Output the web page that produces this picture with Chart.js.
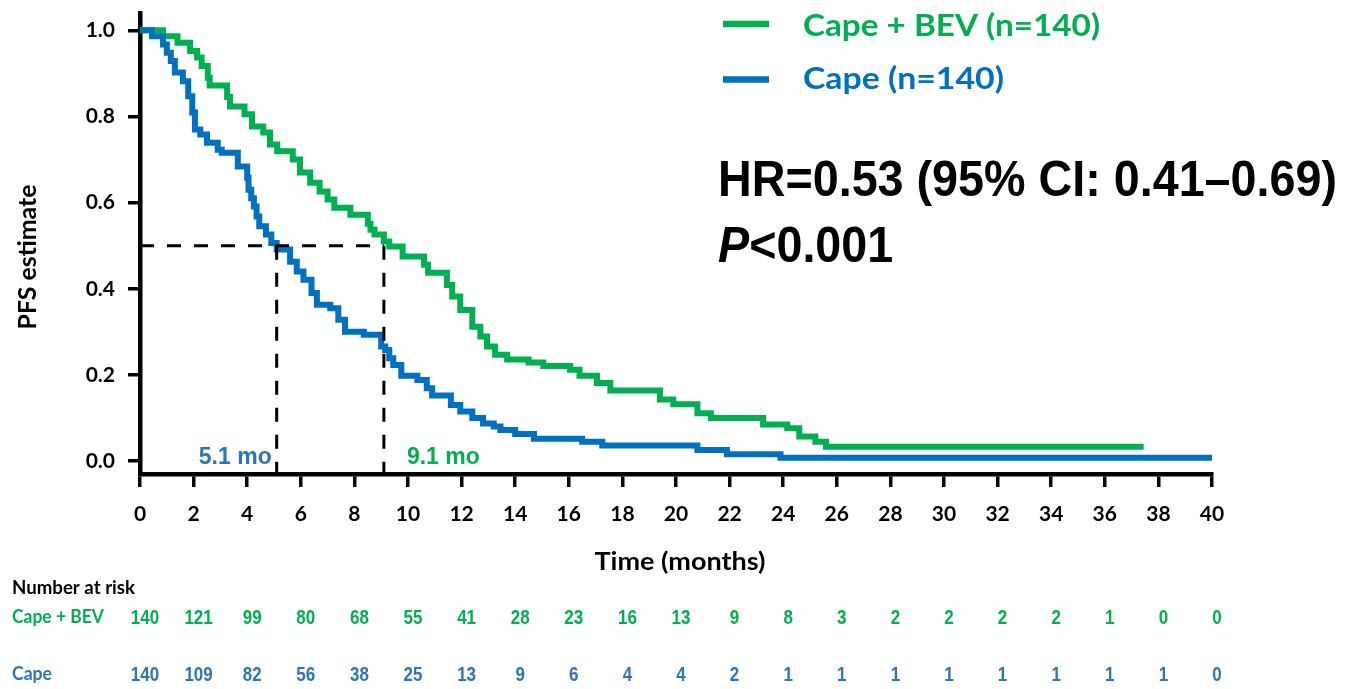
<!DOCTYPE html>
<html>
<head>
<meta charset="utf-8">
<script src="https://cdn.jsdelivr.net/npm/chart.js@4.4.1/dist/chart.umd.min.js"></script>
<style>
  html, body { margin: 0; padding: 0; background: #ffffff; }
  #wrap { position: relative; width: 1359px; height: 689px; }
</style>
</head>
<body>
<div id="wrap"><canvas id="km" width="1359" height="689"></canvas></div>
<script>
// Axis ticks
const monthTicks = [0, 2, 4, 6, 8, 10, 12, 14, 16, 18, 20, 22, 24, 26, 28, 30, 32, 34, 36, 38, 40];
const survTicks = [0, 0.2, 0.4, 0.6, 0.8, 1.0];

// Kaplan-Meier steps: time (months) at which the estimate changes, and the new estimate
const bevTimes = [0, 0.86, 1.4, 1.87, 2.13, 2.3, 2.53, 2.6, 3.25, 3.36, 3.9, 4.18, 4.6, 4.85, 5.12, 5.7, 5.97, 6.35, 6.7, 7.0, 7.25, 7.85, 8.5, 8.6, 8.75, 9.1, 9.3, 9.8, 10.6, 10.75, 11.45, 11.65, 11.95, 12.4, 12.7, 12.95, 13.25, 13.7, 14.5, 15.05, 16.05, 16.4, 17.05, 17.55, 19.4, 19.9, 20.8, 21.3, 23.25, 24.15, 24.6, 25.2, 25.6, 37.45];
const bevSurv  = [1.0, 0.986, 0.971, 0.952, 0.937, 0.917, 0.89, 0.872, 0.845, 0.823, 0.805, 0.777, 0.763, 0.735, 0.719, 0.70, 0.67, 0.646, 0.626, 0.607, 0.588, 0.572, 0.551, 0.537, 0.526, 0.51, 0.498, 0.475, 0.456, 0.437, 0.409, 0.382, 0.351, 0.312, 0.289, 0.266, 0.247, 0.236, 0.229, 0.221, 0.212, 0.198, 0.181, 0.164, 0.143, 0.132, 0.111, 0.10, 0.085, 0.076, 0.057, 0.045, 0.033, 0.033];

const capeTimes = [0, 0.45, 0.86, 1.0, 1.15, 1.3, 1.6, 1.8, 1.95, 2.05, 2.25, 2.5, 2.9, 3.05, 3.65, 4.0, 4.05, 4.15, 4.25, 4.35, 4.45, 4.7, 4.9, 5.1, 5.6, 5.85, 6.1, 6.4, 6.6, 7.1, 7.4, 7.65, 8.35, 9.0, 9.15, 9.3, 9.45, 9.75, 10.35, 10.7, 10.9, 11.6, 11.95, 12.4, 12.8, 13.2, 13.45, 14.0, 14.7, 16.5, 17.25, 20.8, 21.9, 23.9, 40];
const capeSurv  = [1.0, 0.986, 0.967, 0.948, 0.929, 0.902, 0.882, 0.847, 0.809, 0.77, 0.758, 0.739, 0.723, 0.716, 0.684, 0.658, 0.63, 0.61, 0.591, 0.568, 0.545, 0.526, 0.506, 0.491, 0.463, 0.44, 0.421, 0.39, 0.363, 0.355, 0.328, 0.30, 0.293, 0.266, 0.258, 0.239, 0.223, 0.198, 0.188, 0.169, 0.152, 0.13, 0.115, 0.10, 0.087, 0.08, 0.072, 0.063, 0.052, 0.045, 0.036, 0.026, 0.016, 0.008, 0.008];

// Number at risk at each tick month
const riskBev  = [140, 121, 99, 80, 68, 55, 41, 28, 23, 16, 13, 9, 8, 3, 2, 2, 2, 2, 1, 0, 0];
const riskCape = [140, 109, 82, 56, 38, 25, 13, 9, 6, 4, 4, 2, 1, 1, 1, 1, 1, 1, 1, 1, 0];

// Medians (months) and the survival level they are read at
const medianCape = 5.1;
const medianBev = 9.1;
const medianLevel = 0.5;

const GREEN = '#00B050';
const BLUE = '#0070C0';
const BLUE_TXT = '#2E75B6';
const Y_MIN = -0.03, Y_MAX = 1.04;

const toPoints = (ts, ss) => ts.map((t, i) => ({ x: t, y: ss[i] }));

// Writes text, optionally squeezed horizontally to a given width
function put(ctx, s, x, y, font, color, align, fitW) {
  ctx.save();
  ctx.font = font;
  ctx.fillStyle = color;
  ctx.textBaseline = 'alphabetic';
  const w = ctx.measureText(s).width;
  const k = fitW ? fitW / w : 1;
  let x0 = x;
  if (align === 'center') x0 = x - (w * k) / 2;
  else if (align === 'right') x0 = x - w * k;
  ctx.translate(x0, y);
  ctx.scale(k, 1);
  ctx.textAlign = 'left';
  ctx.fillText(s, 0, 0);
  ctx.restore();
  return w * k;
}

const extras = {
  id: 'kmExtras',
  afterDraw(chart) {
    const ctx = chart.ctx;
    const xs = chart.scales.x;

    // legend
    ctx.save();
    ctx.lineWidth = 6.5;
    ctx.strokeStyle = GREEN;
    ctx.beginPath(); ctx.moveTo(723, 24); ctx.lineTo(769, 24); ctx.stroke();
    ctx.strokeStyle = BLUE;
    ctx.beginPath(); ctx.moveTo(723, 79.5); ctx.lineTo(769, 79.5); ctx.stroke();
    ctx.restore();
    put(ctx, 'Cape + BEV (n=140)', 803, 36, 'bold 31px Lato', GREEN, 'left', 297);
    put(ctx, 'Cape (n=140)', 803, 89, 'bold 31px Lato', BLUE, 'left', 201);

    // hazard ratio and p value
    const hrFont = 'bold 50px "Liberation Sans"';
    const hrText = 'HR=0.53 (95% CI: 0.41\u20130.69)';
    ctx.save();
    ctx.font = hrFont;
    const k = 619 / ctx.measureText(hrText).width;
    const restW = ctx.measureText('<0.001').width * k;
    ctx.font = 'italic ' + hrFont;
    const pW = ctx.measureText('P').width * k;
    ctx.restore();
    put(ctx, hrText, 718, 196, hrFont, '#000', 'left', 619);
    put(ctx, 'P', 718, 262, 'italic ' + hrFont, '#000', 'left', pW);
    put(ctx, '<0.001', 718 + pW, 262, hrFont, '#000', 'left', restW);

    // median labels
    const mFont = 'bold 23px "Liberation Sans"';
    put(ctx, '5.1 mo', xs.getPixelForValue(medianCape) - 5, 464, mFont, BLUE_TXT, 'right');
    put(ctx, '9.1 mo', xs.getPixelForValue(medianBev) + 23, 464, mFont, GREEN, 'left');

    // axis titles
    put(ctx, 'Time (months)', 680, 570, 'bold 24px Lato', '#000', 'center', 171);
    ctx.save();
    ctx.translate(36, 257);
    ctx.rotate(-Math.PI / 2);
    put(ctx, 'PFS estimate', 0, 0, 'bold 24px Lato', '#000', 'center', 145);
    ctx.restore();

    // number at risk table
    put(ctx, 'Number at risk', 12, 594, 'bold 18px Lato', '#000', 'left', 123);
    put(ctx, 'Cape + BEV', 12, 623, 'bold 18px Lato', GREEN, 'left', 92);
    put(ctx, 'Cape', 12, 680, 'bold 18px Lato', BLUE_TXT, 'left', 40);
    const nFont = 'bold 20px "Liberation Sans"';
    monthTicks.forEach((m, i) => {
      const px = xs.getPixelForValue(m);
      ctx.save();
      ctx.font = nFont;
      const wb = ctx.measureText(String(riskBev[i])).width * 0.85;
      const wc = ctx.measureText(String(riskCape[i])).width * 0.85;
      ctx.restore();
      put(ctx, String(riskBev[i]), px + 5, 624, nFont, GREEN, 'center', wb);
      put(ctx, String(riskCape[i]), px + 5, 681, nFont, BLUE_TXT, 'center', wc);
    });
  }
};

const dashStyle = {
  borderColor: '#000',
  borderWidth: 3,
  borderDash: [14, 13],
  pointRadius: 0,
  fill: false,
  order: 0
};

new Chart(document.getElementById('km'), {
  type: 'line',
  data: {
    datasets: [
      Object.assign({ label: 'median', data: [{ x: 0, y: medianLevel }, { x: medianBev, y: medianLevel }] }, dashStyle),
      Object.assign({ label: 'median Cape', data: [{ x: medianCape, y: medianLevel }, { x: medianCape, y: Y_MIN }] }, dashStyle),
      Object.assign({ label: 'median Cape + BEV', data: [{ x: medianBev, y: medianLevel }, { x: medianBev, y: Y_MIN }] }, dashStyle),
      {
        label: 'Cape (n=140)',
        data: toPoints(capeTimes, capeSurv),
        borderColor: BLUE,
        borderWidth: 6,
        stepped: 'before',
        pointRadius: 0,
        fill: false,
        order: 1
      },
      {
        label: 'Cape + BEV (n=140)',
        data: toPoints(bevTimes, bevSurv),
        borderColor: GREEN,
        borderWidth: 6,
        stepped: 'before',
        pointRadius: 0,
        fill: false,
        order: 2
      }
    ]
  },
  options: {
    responsive: false,
    animation: false,
    layout: { padding: { left: 0, top: 13, right: 147, bottom: 0 } },
    plugins: { legend: { display: false }, tooltip: { enabled: false } },
    scales: {
      x: {
        type: 'linear',
        min: 0,
        max: 40,
        afterBuildTicks: (s) => { s.ticks = monthTicks.map(v => ({ value: v })); },
        afterFit: (s) => { s.height = 215; },
        ticks: {
          autoSkip: false,
          maxRotation: 0,
          padding: 15,
          color: '#000',
          font: { family: 'Lato', weight: 'bold', size: 21 }
        },
        grid: { drawOnChartArea: false, drawTicks: true, tickLength: 13, lineWidth: 3.5, color: '#000' },
        border: { display: true, width: 4.5, color: '#000' }
      },
      y: {
        min: Y_MIN,
        max: Y_MAX,
        afterBuildTicks: (s) => { s.ticks = survTicks.map(v => ({ value: v })); },
        afterFit: (s) => { s.width = 140; },
        ticks: {
          padding: 13,
          color: '#000',
          font: { family: 'Lato', weight: 'bold', size: 21, lineHeight: 0.01 },
          callback: (v) => Number(v).toFixed(1)
        },
        grid: { drawOnChartArea: false, drawTicks: true, tickLength: 12, lineWidth: 3.5, color: '#000' },
        border: { display: true, width: 4.5, color: '#000' }
      }
    }
  },
  plugins: [extras]
});
</script>
</body>
</html>
